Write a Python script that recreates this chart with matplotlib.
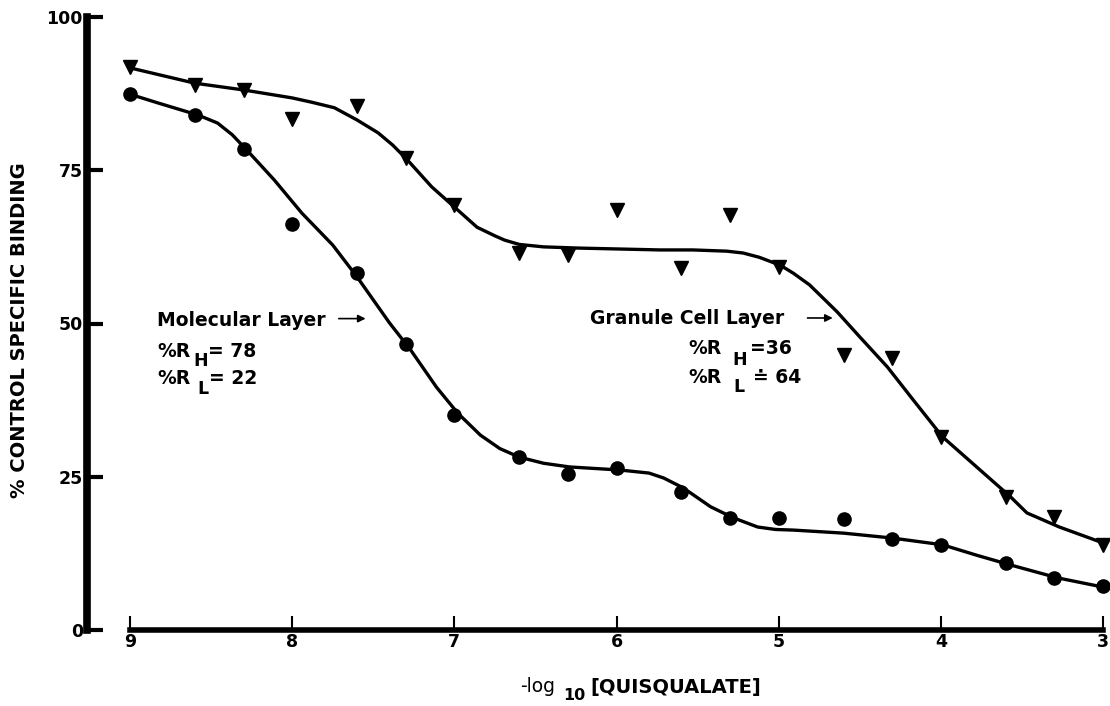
import numpy as np
import matplotlib
matplotlib.use('Agg')
import matplotlib.pyplot as plt

plt.rcParams['font.family'] = ['DejaVu Sans']

# measured points, x = -log10[quisqualate]
conc = [9.0, 8.6, 8.3, 8.0, 7.6, 7.3, 7.0, 6.6, 6.3, 6.0, 5.6, 5.3, 5.0, 4.6, 4.3, 4.0, 3.6, 3.3, 3.0]
granule_pts = [91.8, 88.9, 88.1, 83.4, 85.5, 77.0, 69.3, 61.5, 61.2, 68.5, 59.1, 67.7, 59.2, 44.9, 44.4, 31.5, 21.7, 18.4, 13.9]
molecular_pts = [87.4, 84.0, 78.5, 66.2, 58.2, 46.7, 35.1, 28.2, 25.4, 26.4, 22.5, 18.3, 18.3, 18.1, 14.8, 13.9, 10.9, 8.5, 7.2]

# fitted curves
granule_fit_x = [9.0, 8.6, 8.3, 8.0, 7.88, 7.74, 7.6, 7.47, 7.38, 7.29, 7.14, 7.0, 6.86, 6.75, 6.69, 6.6, 6.45, 6.23,
                 5.73, 5.53, 5.32, 5.22, 5.12, 4.99, 4.91, 4.81, 4.64, 4.5, 4.33, 4.17, 3.99, 3.78, 3.57, 3.47,
                 3.27, 3.0]
granule_fit_y = [91.7, 89.2, 88.1, 86.8, 86.1, 85.2, 83.2, 81.1, 79.1, 76.7, 72.3, 69.0, 65.7, 64.3, 63.6, 62.9, 62.5,
                 62.3, 62.0, 62.0, 61.8, 61.5, 60.8, 59.5, 58.2, 56.3, 51.9, 47.8, 42.9, 37.5, 31.5, 26.6, 21.7,
                 19.1, 16.8, 14.2]
molecular_fit_x = [9.0, 8.83, 8.58, 8.46, 8.37, 8.28, 8.2, 8.11, 7.94, 7.75, 7.6, 7.4, 7.27, 7.11, 6.98, 6.84,
                   6.72, 6.6, 6.45, 6.29, 5.98, 5.8, 5.71, 5.59, 5.42, 5.28, 5.13, 5.02, 4.91, 4.6, 4.3, 3.99,
                   3.78, 3.57, 3.28, 3.0]
molecular_fit_y = [87.4, 86.0, 84.0, 82.7, 80.8, 78.3, 76.0, 73.4, 68.0, 62.8, 57.6, 50.1, 45.7, 39.6, 35.4, 31.8,
                   29.6, 28.2, 27.2, 26.6, 26.1, 25.6, 24.8, 23.2, 20.1, 18.3, 16.8, 16.4, 16.3, 15.8, 15.0, 13.9,
                   12.2, 10.6, 8.5, 7.0]

xticks = [9, 8, 7, 6, 5, 4, 3]
yticks = [0, 25, 50, 75, 100]

W, H = 1110., 706.
fig = plt.figure(figsize=(11.1, 7.06), dpi=100)
ax = fig.add_axes([87/W, 76/H, (1108-87)/W, 613/H])

def px(x, y):
    return x/W, 1 - y/H

ax.plot(granule_fit_x, granule_fit_y, color='black', linewidth=2.4, solid_joinstyle='round', clip_on=False)
ax.plot(molecular_fit_x, molecular_fit_y, color='black', linewidth=2.4, solid_joinstyle='round', clip_on=False)
ax.plot(conc, granule_pts, linestyle='none', marker='v', markersize=10.5, color='black', clip_on=False)
ax.plot(conc, molecular_pts, linestyle='none', marker='o', markersize=9.5, color='black', clip_on=False)

ax.set_xlim(9.265, 2.97)
ax.set_ylim(0, 100)
for side in ['top', 'right']:
    ax.spines[side].set_visible(False)
ax.spines['left'].set_bounds(0, 100)
ax.spines['left'].set_linewidth(5.5)
ax.spines['bottom'].set_bounds(3, 9)
ax.spines['bottom'].set_linewidth(4)

ax.set_xticks(xticks)
ax.set_yticks(yticks)
ax.tick_params(axis='y', direction='in', length=11.5, width=3, pad=3, labelsize=12.5)
ax.tick_params(axis='x', direction='in', length=10, width=1.5, pad=2, labelsize=12.5)
for lab in ax.get_xticklabels() + ax.get_yticklabels():
    lab.set_fontweight('bold')

# annotations
fs = 13.5
ax.annotate('', xy=(7.53, 50.8), xytext=(7.73, 50.8),
            arrowprops=dict(arrowstyle='-|>', color='black', lw=1.2, mutation_scale=11))
fig.text(*px(157, 320), 'Molecular Layer', fontsize=fs, fontweight='bold', va='center')
fig.text(*px(157, 351), '%R', fontsize=fs, fontweight='bold', va='center')
fig.text(*px(193, 361), 'H', fontsize=fs - 1, fontweight='bold', va='center')
fig.text(*px(208, 351), '= 78', fontsize=fs, fontweight='bold', va='center')
fig.text(*px(157, 379), '%R', fontsize=fs, fontweight='bold', va='center')
fig.text(*px(197, 389), 'L', fontsize=fs - 1, fontweight='bold', va='center')
fig.text(*px(209, 379), '= 22', fontsize=fs, fontweight='bold', va='center')

ax.annotate('', xy=(4.65, 50.9), xytext=(4.84, 50.9),
            arrowprops=dict(arrowstyle='-|>', color='black', lw=1.2, mutation_scale=11))
fig.text(*px(590, 319), 'Granule Cell Layer', fontsize=fs, fontweight='bold', va='center')
fig.text(*px(688, 349), '%R', fontsize=fs, fontweight='bold', va='center')
fig.text(*px(732, 360), 'H', fontsize=fs - 1, fontweight='bold', va='center')
fig.text(*px(750, 349), '=36', fontsize=fs, fontweight='bold', va='center')
fig.text(*px(688, 377), '%R', fontsize=fs, fontweight='bold', va='center')
fig.text(*px(733, 387), 'L', fontsize=fs - 1, fontweight='bold', va='center')
fig.text(*px(753, 377), '\u2250 64', fontsize=fs, fontweight='bold', va='center')

# axis titles
fig.text(*px(20, 330), '% CONTROL SPECIFIC BINDING', rotation=90, fontsize=14,
         fontweight='bold', ha='center', va='center')
fig.text(*px(520, 686), '-log', fontsize=13.5, ha='left', va='center')
fig.text(*px(563, 696), '10', fontsize=11.5, fontweight='bold', ha='left', va='center')
fig.text(*px(590, 688), '[QUISQUALATE]', fontsize=14, fontweight='bold', ha='left', va='center')

plt.savefig('out.png', dpi=100)
plt.close()
